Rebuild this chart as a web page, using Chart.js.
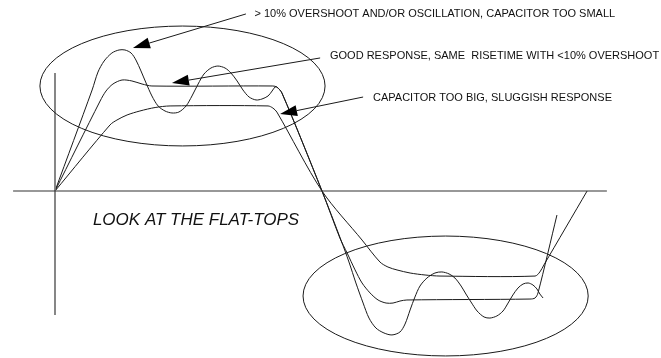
<!DOCTYPE html>
<html>
<head>
<meta charset="utf-8">
<script src="https://cdn.jsdelivr.net/npm/chart.js@4/dist/chart.umd.min.js"></script>
<style>
  html, body { margin: 0; padding: 0; background: #ffffff; }
  #wrap { width: 661px; height: 358px; }
</style>
</head>
<body>
<div id="wrap"><canvas id="c" width="661" height="358"></canvas></div>
<script>
// Time axis in arbitrary units (one half-period = 100), amplitude in % of the ideal flat-top.

// Capacitor too small: overshoot and ringing
const smallCapT = [0, 13.9, 16.1, 18.4, 21.3, 24.0, 26.2, 28.5, 30.3, 32.2, 34.1, 36.3, 38.6, 41.2, 43.8, 46.4,
  49.1, 51.3, 53.6, 55.8, 58.4, 61.0, 63.7, 65.9, 68.2, 70.4, 72.7, 75.3, 77.5, 79.8, 81.3, 82.4, 83.1, 85.0,
  100, 107.1, 110.1, 112.7, 115.4, 117.6, 120.2, 123.2, 126.2, 129.2, 131.1, 133.0, 134.8, 136.7, 139.3, 142.3,
  144.9, 147.6, 149.8, 152.1, 153.9, 155.8, 158.1, 160.7, 162.9, 165.5, 167.8, 169.7, 171.5, 173.4, 175.3,
  177.2, 179.0, 180.5, 181.6, 182.8];
const smallCapV = [0, 96.2, 113.3, 123.8, 131.4, 134.3, 134.3, 131.4, 124.8, 114.3, 102.9, 90.5, 81.0, 76.2, 74.3, 75.2,
  81.0, 90.5, 101.9, 111.4, 117.1, 119.0, 117.1, 112.4, 104.8, 96.2, 89.5, 86.7, 87.6, 90.5, 95.2, 99.0, 99.0, 93.3,
  0, -46.7, -67.6, -87.6, -106.7, -121.0, -130.5, -135.2, -137.1, -134.3, -126.7, -113.3, -101.0, -90.5, -82.9, -78.1,
  -77.1, -79.0, -82.9, -90.5, -98.1, -105.7, -114.3, -120.0, -121.0, -119.0, -114.3, -106.7, -99.0, -92.4, -88.6,
  -87.6, -89.5, -93.3, -98.1, -101.9];

// Correct capacitor: same risetime, small overshoot
const goodT = [0, 16.9, 19.1, 21.7, 25.1, 28.8, 32.6, 36.3, 81.6, 83.1, 85.0,
  100, 106.7, 109.4, 112.4, 115.0, 118.0, 121.0, 124.0, 126.6, 129.2, 131.8, 177.9, 179.8, 180.9, 188.0];
const goodV = [0, 85.7, 95.2, 101.9, 105.7, 104.8, 101.9, 100.0, 100.0, 99.0, 93.3,
  0, -44.8, -59.0, -75.2, -87.6, -97.1, -103.8, -106.7, -106.7, -104.8, -103.8, -102.9, -101.9, -97.1, -22.9];

// Capacitor too big: sluggish edges
const bigCapT = [0, 20.6, 23.2, 27.0, 31.8, 37.5, 43.1, 79.8, 81.6, 83.1,
  100, 115.0, 121.7, 124.7, 128.1, 133.0, 138.6, 144.2, 179.8, 181.6, 183.1, 199.3];
const bigCapV = [0, 62.9, 67.6, 72.4, 76.2, 79.5, 81.0, 81.0, 79.0, 75.2,
  0, -46.7, -67.6, -72.4, -75.2, -78.1, -80.0, -81.0, -81.0, -77.1, -70.5, 0];

// Reference axes
const timeAxisT = [-15.7, 206.7];
const timeAxisV = [0, 0];
const ampAxisT = [0, 0];
const ampAxisV = [112.4, -118.1];

// Captions
const captions = [
  '> 10% OVERSHOOT AND/OR OSCILLATION, CAPACITOR TOO SMALL',
  'GOOD RESPONSE, SAME  RISETIME WITH <10% OVERSHOOT',
  'CAPACITOR TOO BIG, SLUGGISH RESPONSE',
  'LOOK AT THE FLAT-TOPS'
];

const pts = (ts, vs) => ts.map((t, i) => ({ x: t, y: vs[i] }));

// Decorations placed in data units
const ellipses = [
  { cx: 47.75, cy: 100, rx: 53.4, ry: 57.1 },
  { cx: 146.3, cy: -100, rx: 53.4, ry: 57.1 }
];
const arrows = [
  { x0: 71.5, y0: 168.6, x1: 29.2, y1: 136.2 },
  { x0: 99.3, y0: 126.7, x1: 43.8, y1: 102.9 },
  { x0: 115.4, y0: 89.5, x1: 84.3, y1: 73.3 }
];
const captionPlacement = [
  { x: 74.7, y: 165.4, font: '11px "Liberation Sans", Arial, sans-serif' },
  { x: 103.0, y: 125.4, font: '11px "Liberation Sans", Arial, sans-serif' },
  { x: 119.1, y: 86.0, font: '11px "Liberation Sans", Arial, sans-serif' },
  { x: 14.2, y: -32.4, font: 'italic 17px "Liberation Sans", Arial, sans-serif' }
];

const sketchPlugin = {
  id: 'sketchDecor',
  afterDatasetsDraw(chart) {
    const { ctx } = chart;
    const xs = chart.scales.x, ys = chart.scales.y;
    const px = v => xs.getPixelForValue(v);
    const py = v => ys.getPixelForValue(v);
    ctx.save();
    ctx.strokeStyle = '#1a1a1a';
    ctx.fillStyle = '#000000';
    ctx.lineWidth = 1;

    ellipses.forEach(e => {
      const cx = px(e.cx), cy = py(e.cy);
      const rx = Math.abs(px(e.cx + e.rx) - cx), ry = Math.abs(py(e.cy + e.ry) - cy);
      ctx.beginPath();
      ctx.ellipse(cx, cy, rx, ry, 0, 0, Math.PI * 2);
      ctx.stroke();
    });

    arrows.forEach(a => {
      const x0 = px(a.x0), y0 = py(a.y0), x1 = px(a.x1), y1 = py(a.y1);
      const ang = Math.atan2(y1 - y0, x1 - x0);
      const len = 17, half = 5.5;
      const bx = x1 - len * Math.cos(ang), by = y1 - len * Math.sin(ang);
      ctx.beginPath();
      ctx.moveTo(x0, y0);
      ctx.lineTo(bx, by);
      ctx.stroke();
      ctx.beginPath();
      ctx.moveTo(x1, y1);
      ctx.lineTo(bx + half * Math.sin(ang), by - half * Math.cos(ang));
      ctx.lineTo(bx - half * Math.sin(ang), by + half * Math.cos(ang));
      ctx.closePath();
      ctx.fill();
    });

    ctx.fillStyle = '#111111';
    ctx.textAlign = 'left';
    ctx.textBaseline = 'alphabetic';
    captions.forEach((txt, i) => {
      const p = captionPlacement[i];
      ctx.font = p.font;
      ctx.fillText(txt, px(p.x), py(p.y));
    });
    ctx.restore();
  }
};

const curveStyle = { borderColor: '#1a1a1a', borderWidth: 1, pointRadius: 0, tension: 0.3, fill: false };

new Chart(document.getElementById('c'), {
  type: 'line',
  data: {
    datasets: [
      { label: 'time axis', data: pts(timeAxisT, timeAxisV), borderColor: '#333333', borderWidth: 1.2, pointRadius: 0, tension: 0 },
      { label: 'amplitude axis', data: pts(ampAxisT, ampAxisV), borderColor: '#7a7a7a', borderWidth: 1.8, pointRadius: 0, tension: 0 },
      Object.assign({ label: 'C too small', data: pts(smallCapT, smallCapV) }, curveStyle),
      Object.assign({ label: 'good', data: pts(goodT, goodV) }, curveStyle),
      Object.assign({ label: 'C too big', data: pts(bigCapT, bigCapV) }, curveStyle)
    ]
  },
  options: {
    responsive: false,
    animation: false,
    devicePixelRatio: 1,
    layout: { padding: 0 },
    scales: {
      x: { type: 'linear', min: -20.6, max: 226.97, display: false },
      y: { type: 'linear', min: -159.05, max: 181.9, display: false }
    },
    plugins: { legend: { display: false }, tooltip: { enabled: false } },
    elements: { line: { capBezierPoints: true } }
  },
  plugins: [sketchPlugin]
});
</script>
</body>
</html>
